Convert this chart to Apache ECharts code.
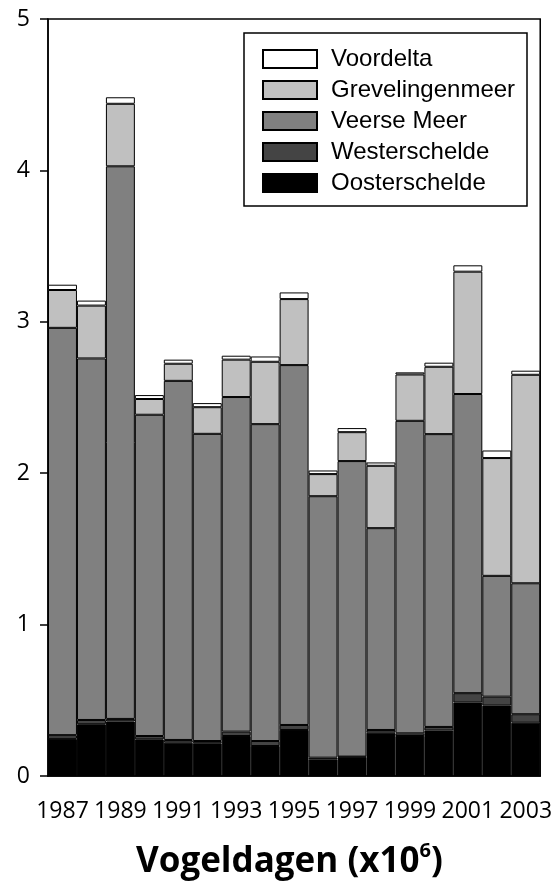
<!DOCTYPE html>
<html>
<head>
<meta charset="utf-8">
<script src="https://cdn.jsdelivr.net/npm/echarts@6/dist/echarts.min.js"></script>
<style>
  html, body { margin: 0; padding: 0; background: #fff; }
  #chart { width: 555px; height: 881px; }
</style>
</head>
<body>
<div id="chart"></div>
<script>
// years on the x axis
const years = ['1987', '1988', '1989', '1990', '1991', '1992', '1993', '1994', '1995',
  '1996', '1997', '1998', '1999', '2000', '2001', '2002', '2003'];

// bird-days (x10^6) per area
const oosterschelde = [0.245, 0.342, 0.36, 0.242, 0.22, 0.216, 0.264, 0.198, 0.304,
  0.11, 0.124, 0.286, 0.264, 0.3, 0.485, 0.465, 0.352];
const westerschelde = [0.025, 0.028, 0.017, 0.022, 0.018, 0.015, 0.029, 0.033, 0.033,
  0.011, 0.004, 0.018, 0.018, 0.024, 0.062, 0.059, 0.056];
const veerseMeer = [2.69, 2.388, 3.65, 2.122, 2.372, 2.029, 2.21, 2.093, 2.377,
  1.727, 1.952, 1.333, 2.064, 1.934, 1.976, 0.798, 0.865];
const grevelingenmeer = [0.25, 0.349, 0.413, 0.104, 0.113, 0.176, 0.247, 0.412, 0.436,
  0.146, 0.191, 0.412, 0.306, 0.445, 0.808, 0.778, 1.377];
const voordelta = [0.035, 0.033, 0.043, 0.026, 0.027, 0.027, 0.026, 0.035, 0.044,
  0.024, 0.027, 0.022, 0.014, 0.027, 0.042, 0.05, 0.027];

const yTicks = [0, 1, 2, 3, 4, 5];

const chart = echarts.init(document.getElementById('chart'));

function bar(name, data, color) {
  return {
    name: name,
    type: 'bar',
    stack: 'total',
    data: data,
    barCategoryGap: 0,
    itemStyle: { color: color, borderColor: '#000', borderWidth: 1 },
    emphasis: { disabled: true }
  };
}

chart.setOption({
  animation: false,
  textStyle: { fontFamily: 'Open Sans' },
  grid: {
    left: 48, right: 13, top: 19, bottom: 105,
    show: true, borderColor: '#000', borderWidth: 1.5, backgroundColor: 'transparent'
  },
  title: {
    left: 131,
    top: 836,
    text: '{a|Vogeldagen (x10}{b|6}{a|)}',
    textStyle: {
      rich: {
        a: { fontFamily: 'Open Sans', fontWeight: 'bold', fontSize: 35, color: '#000', lineHeight: 42 },
        b: { fontFamily: 'Open Sans', fontWeight: 'bold', fontSize: 20, color: '#000', verticalAlign: 'top', lineHeight: 38 }
      }
    }
  },
  graphic: [{
    type: 'rect',
    shape: { x: 244, y: 33, width: 283, height: 173 },
    style: { fill: '#fff', stroke: '#000', lineWidth: 1.5 },
    z: 10
  }],
  legend: {
    orient: 'vertical',
    left: 262,
    top: 47,
    padding: 0,
    itemWidth: 54,
    itemHeight: 18,
    itemGap: 7,
    icon: 'rect',
    z: 20,
    data: ['Voordelta', 'Grevelingenmeer', 'Veerse Meer', 'Westerschelde', 'Oosterschelde'],
    textStyle: { fontFamily: 'Liberation Sans', fontSize: 24, color: '#000', padding: [0, 0, 0, 9] }
  },
  xAxis: {
    type: 'category',
    data: years,
    axisLine: { lineStyle: { color: '#000', width: 1.5 } },
    axisTick: { interval: 1, alignWithLabel: true, length: 10, lineStyle: { color: '#000', width: 1.5 } },
    axisLabel: { interval: 1, fontSize: 23, color: '#000', margin: 24, fontFamily: 'Open Sans' }
  },
  yAxis: {
    type: 'value',
    min: yTicks[0],
    max: yTicks[yTicks.length - 1],
    interval: 1,
    splitLine: { show: false },
    axisLine: { show: true, lineStyle: { color: '#000', width: 1.5 } },
    axisTick: { show: true, length: 8, lineStyle: { color: '#000', width: 1.5 } },
    axisLabel: { fontSize: 23, color: '#000', margin: 18, fontFamily: 'Open Sans' }
  },
  series: [
    bar('Oosterschelde', oosterschelde, '#000000'),
    bar('Westerschelde', westerschelde, '#444444'),
    bar('Veerse Meer', veerseMeer, '#808080'),
    bar('Grevelingenmeer', grevelingenmeer, '#c0c0c0'),
    bar('Voordelta', voordelta, '#ffffff')
  ]
});
</script>
</body>
</html>
